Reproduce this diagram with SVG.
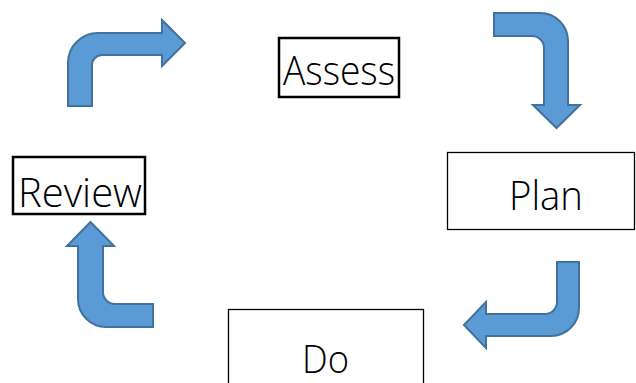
<svg xmlns="http://www.w3.org/2000/svg" width="636" height="383" viewBox="0 0 636 383">
<style>
.arrow{fill:#5B9BD5;stroke:#41719C;stroke-width:2;stroke-linejoin:miter}
.box{fill:#FFFFFF;stroke:#000000}
.thick{stroke-width:2.5}
.thin{stroke-width:1.3}
.lbl{font-family:"Open Sans","Noto Sans","DejaVu Sans",sans-serif;font-size:41px;font-weight:300;fill:#000000;text-anchor:middle}
</style>
<rect width="636" height="383" fill="#FFFFFF"/>
<g id="connectors">
<path class="arrow" d="M68,106 L68,63 A30,30 0 0 1 98,33 L162,33 L162,20 L185,43 L162,66 L162,55 L102,55 A10,10 0 0 0 92,65 L92,106 Z"/>
<path class="arrow" d="M494,13 L540,13 A28,28 0 0 1 568,41 L568,105 L580,105 L556.5,128 L533,105 L544,105 L544,48 A12,12 0 0 0 532,36 L494,36 Z"/>
<path class="arrow" d="M579,262 L579,308 A28,28 0 0 1 551,336 L486,336 L486,348 L464,325 L486,302 L486,314 L545,314 A12,12 0 0 0 557,302 L557,262 Z"/>
<path class="arrow" d="M153,327 L106,327 A28,28 0 0 1 78,299 L78,246 L67,246 L90.5,222 L114,246 L103,246 L103,292 A12,12 0 0 0 115,304 L153,304 Z"/>
</g>
<g id="assess">
<rect class="box thick" x="279" y="38" width="120" height="59"/>
<text class="lbl" x="339" y="85" textLength="112" lengthAdjust="spacingAndGlyphs">Assess</text>
</g>
<g id="plan">
<rect class="box thin" x="447.5" y="152.5" width="187" height="77"/>
<text class="lbl" x="546" y="210" textLength="74" lengthAdjust="spacingAndGlyphs">Plan</text>
</g>
<g id="do">
<rect class="box thin" x="228.5" y="309.5" width="195" height="80"/>
<text class="lbl" x="325.5" y="373" style="font-size:39px" textLength="47" lengthAdjust="spacingAndGlyphs">Do</text>
</g>
<g id="review">
<rect class="box thick" x="13" y="157" width="132" height="57"/>
<text class="lbl" x="80" y="207" textLength="124" lengthAdjust="spacingAndGlyphs">Review</text>
</g>
</svg>
